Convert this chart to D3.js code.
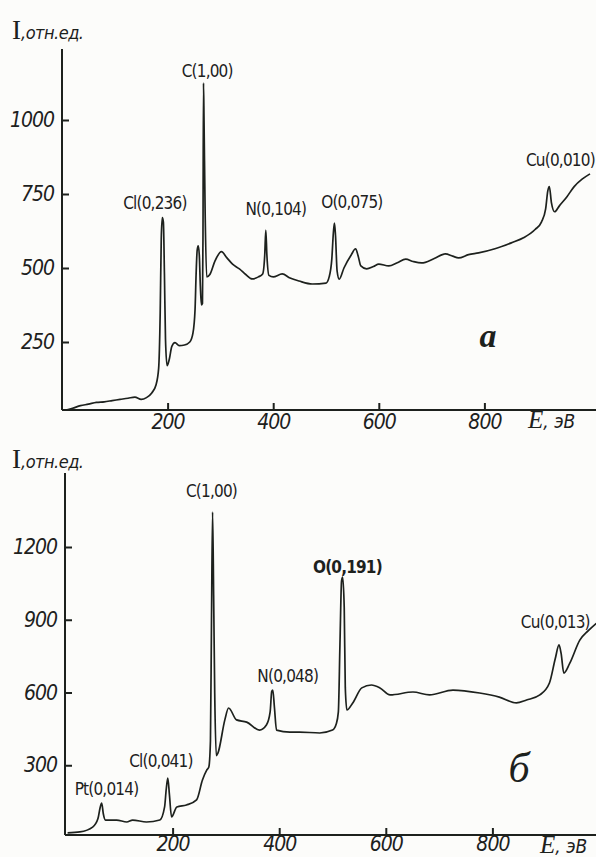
<!DOCTYPE html>
<html>
<head>
<meta charset="utf-8">
<script src="https://cdnjs.cloudflare.com/ajax/libs/d3/7.8.5/d3.min.js"></script>
<style>
    body { margin: 0; background: #fcfcfa; }
    svg text { fill: #1d211d; }
</style>
</head>
<body>
<div id="chart"></div>
<script>
// tick values
const ticksE = [200, 400, 600, 800];
const ticksIA = [250, 500, 750, 1000];
const ticksIB = [300, 600, 900, 1200];

// spectrum (а): energy, eV / intensity, rel. units
const energyA = [8, 20, 35, 50, 65, 80, 95, 110, 125, 138, 150, 160, 170, 178, 183, 186, 188, 190, 192, 194,
    196, 199, 203, 208, 214, 222, 232, 242, 248, 252, 254, 256, 258, 260, 262, 264, 266, 267, 268, 269,
    271, 274, 280, 290, 302, 312, 323, 336, 348, 360, 372, 380, 384, 386, 388, 392, 400, 417, 432, 449,
    474, 500, 506, 511, 514, 516, 518, 521, 525, 534, 548, 556, 561, 566, 577, 590, 600, 619, 635, 651,
    665, 681, 705, 726, 740, 751, 770, 789, 820, 851, 875, 896, 908, 916, 920, 923, 927, 933, 942, 956,
    970, 985, 1000];
const intensityA = [20, 26, 35, 40, 46, 48, 52, 56, 60, 64, 56, 62, 78, 105, 160, 350, 600, 670, 655, 480,
    260, 170, 190, 235, 248, 238, 240, 250, 280, 360, 480, 560, 575, 545, 440, 375, 380, 600, 1125, 1000,
    700, 470, 478, 525, 555, 535, 513, 497, 478, 463, 470, 480, 545, 628, 545, 475, 470, 480, 466, 456,
    446, 449, 470, 530, 620, 652, 610, 490, 462, 500, 545, 565, 540, 507, 497, 505, 513, 507, 518, 530,
    522, 517, 532, 548, 540, 534, 545, 551, 565, 585, 603, 630, 655, 700, 760, 775, 720, 690, 710, 740,
    775, 800, 818];

// spectrum (б)
const energyB = [3, 26, 50, 60, 64, 67, 70, 74, 95, 114, 125, 151, 176, 185, 188, 191, 194, 198, 208, 226,
    245, 256, 264, 268, 271, 273, 275, 277, 279, 282, 285, 298, 305, 320, 339, 363, 376, 383, 386, 388,
    391, 395, 420, 438, 476, 500, 507, 511, 514, 517, 519, 522, 524, 527, 538, 555, 573, 589, 608, 651,
    682, 726, 776, 813, 845, 864, 889, 907, 918, 925, 929, 934, 945, 964, 980, 995];
const intensityB = [21, 25, 45, 80, 125, 144, 100, 74, 74, 66, 74, 66, 74, 128, 200, 247, 180, 87, 128, 136,
    157, 239, 280, 293, 400, 900, 1344, 1000, 600, 340, 350, 487, 536, 487, 478, 445, 466, 520, 605, 610,
    540, 445, 437, 437, 433, 445, 470, 520, 800, 1060, 1076, 950, 620, 528, 557, 619, 631, 619, 590, 602,
    590, 610, 598, 581, 557, 569, 590, 639, 740, 796, 760, 680, 720, 816, 855, 885];

// peak annotations, anchored in data units (energy, intensity)
const peakNamesA = ["Cl(0,236)", "C(1,00)", "N(0,104)", "O(0,075)", "Cu(0,010)"];
const peakLabelEA = [176, 275, 405, 549, 944];
const peakLabelIA = [699, 1145, 679, 703, 845];
const peakBoldA = [false, false, false, false, false];

const peakNamesB = ["Pt(0,014)", "Cl(0,041)", "C(1,00)", "N(0,048)", "O(0,191)", "Cu(0,013)"];
const peakLabelEB = [76, 178, 273, 416, 528, 918];
const peakLabelIB = [177, 293, 1406, 643, 1093, 866];
const peakBoldB = [false, false, false, false, true, false];

const width = 596;
const height = 857;
const ink = "#1d211d";
const sans = "'DejaVu Sans Condensed', 'DejaVu Sans', sans-serif";
const serif = "'Liberation Serif', 'DejaVu Serif', serif";

const svg = d3.select("#chart")
    .append("svg")
    .attr("width", width)
    .attr("height", height)
    .attr("viewBox", [0, 0, width, height]);

function drawPanel(cfg) {
    const x = d3.scaleLinear().domain([0, 1000]).range(cfg.xRange);
    const y = d3.scaleLinear().domain([0, cfg.yRef]).range(cfg.yRange);

    const g = svg.append("g");

    // axis lines
    g.append("line")
        .attr("x1", cfg.axisX).attr("x2", cfg.axisX)
        .attr("y1", cfg.axisTop).attr("y2", cfg.axisY)
        .attr("stroke", ink).attr("stroke-width", 2);
    g.append("line")
        .attr("x1", cfg.axisX).attr("x2", width)
        .attr("y1", cfg.axisY).attr("y2", cfg.axisY)
        .attr("stroke", ink).attr("stroke-width", 2);

    const yAxis = d3.axisLeft(y)
        .tickValues(cfg.ticksI)
        .tickSize(-7)
        .tickPadding(8)
        .tickFormat(d3.format("d"));
    const xAxis = d3.axisBottom(x)
        .tickValues(ticksE)
        .tickSize(-7)
        .tickPadding(cfg.xPad)
        .tickFormat(d3.format("d"));

    const ya = g.append("g")
        .attr("transform", `translate(${cfg.axisX},0)`)
        .call(yAxis);
    const xa = g.append("g")
        .attr("transform", `translate(0,${cfg.axisY})`)
        .call(xAxis);

    [ya, xa].forEach(a => {
        a.select(".domain").remove();
        a.selectAll(".tick line").attr("stroke", ink).attr("stroke-width", 2);
        a.selectAll(".tick text")
            .attr("fill", ink)
            .style("font-family", sans)
            .style("font-style", "italic")
            .style("font-size", "21px")
            .style("letter-spacing", "-1px");
    });

    // spectrum
    const line = d3.line()
        .x((d, i) => x(cfg.energy[i]))
        .y(d => y(d))
        .curve(d3.curveMonotoneX);

    g.append("path")
        .datum(cfg.intensity)
        .attr("fill", "none")
        .attr("stroke", ink)
        .attr("stroke-width", 1.7)
        .attr("stroke-linejoin", "round")
        .attr("d", line);

    // peak labels
    g.selectAll(".peak")
        .data(cfg.names)
        .join("text")
        .attr("class", "peak")
        .attr("x", (d, i) => x(cfg.labelE[i]))
        .attr("y", (d, i) => y(cfg.labelI[i]))
        .attr("text-anchor", "middle")
        .style("font-family", sans)
        .style("font-size", "17px")
        .style("letter-spacing", "-0.8px")
        .style("font-weight", (d, i) => cfg.bold[i] ? "bold" : "normal")
        .text(d => d);

    // axis titles
    const yt = g.append("text")
        .attr("x", 12)
        .attr("y", cfg.titleY);
    yt.append("tspan").style("font-family", serif).style("font-size", "27px").text("I");
    yt.append("tspan").style("font-family", sans).style("font-style", "italic")
        .style("font-size", "18px").style("letter-spacing", "-0.5px").text(",отн.ед.");

    const xt = g.append("text")
        .attr("x", cfg.xTitleX)
        .attr("y", cfg.axisY + 18);
    xt.append("tspan").style("font-family", serif).style("font-style", "italic")
        .style("font-size", "25px").text("E");
    xt.append("tspan").style("font-family", sans).style("font-style", "italic")
        .style("font-size", "19px").text(", эВ");

    // panel letter
    g.append("text")
        .attr("x", x(cfg.letterE))
        .attr("y", y(cfg.letterI))
        .attr("text-anchor", "middle")
        .style("font-family", serif)
        .style("font-style", "italic")
        .style("font-weight", cfg.letterBold ? "bold" : "normal")
        .style("font-size", cfg.letterSize + "px")
        .text(cfg.letter);
}

drawPanel({
    energy: energyA, intensity: intensityA, ticksI: ticksIA,
    names: peakNamesA, labelE: peakLabelEA, labelI: peakLabelIA, bold: peakBoldA,
    xRange: [62, 590], yRef: 1000, yRange: [416, 120],
    axisX: 62, axisY: 410, axisTop: 49, xPad: 4, titleY: 39, xTitleX: 528,
    letter: "а", letterE: 807, letterI: 233, letterBold: true, letterSize: 34
});

drawPanel({
    energy: energyB, intensity: intensityB, ticksI: ticksIB,
    names: peakNamesB, labelE: peakLabelEB, labelI: peakLabelIB, bold: peakBoldB,
    xRange: [66, 599], yRef: 1200, yRange: [838, 547],
    axisX: 65, axisY: 835, axisTop: 473, xPad: 1, titleY: 468, xTitleX: 540,
    letter: "б", letterE: 850, letterI: 230, letterBold: false, letterSize: 42
});
</script>
</body>
</html>
